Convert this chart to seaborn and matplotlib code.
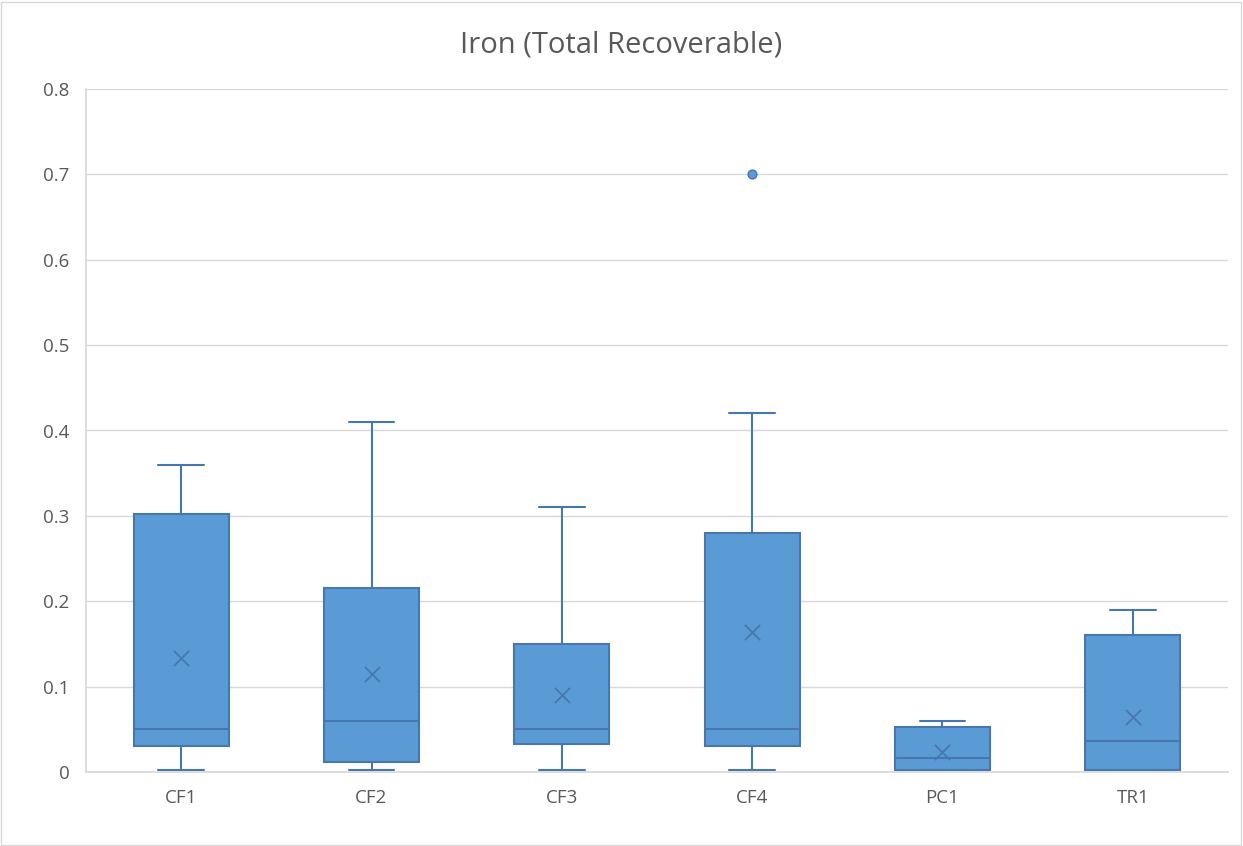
import matplotlib
matplotlib.use("Agg")
import matplotlib.pyplot as plt
import seaborn as sns
import pandas as pd

sites = ["CF1", "CF2", "CF3", "CF4", "PC1", "TR1"]
whislo = [0.002, 0.002, 0.002, 0.002, 0.002, 0.002]
q1 = [0.030, 0.012, 0.033, 0.030, 0.002, 0.002]
med = [0.050, 0.060, 0.050, 0.050, 0.016, 0.036]
q3 = [0.302, 0.215, 0.150, 0.280, 0.053, 0.160]
whishi = [0.360, 0.410, 0.310, 0.420, 0.060, 0.190]
means = [0.134, 0.115, 0.090, 0.164, 0.023, 0.065]
outlier_site = ["CF4"]
outlier_val = [0.700]

sns.set_theme(style="white")
plt.rcParams['font.family'] = ['Open Sans', 'DejaVu Sans']

fill = "#5B9BD5"
edge = "#4677AE"
txt = "#595959"

fig = plt.figure(figsize=(12.43, 8.46), dpi=100)
ax = fig.add_axes([86 / 1243, 1 - 772 / 846, (1228 - 86) / 1243, (772 - 89) / 846])

stats = [dict(label=s, whislo=a, q1=b, med=c, q3=d, whishi=e, fliers=[])
         for s, a, b, c, d, e in zip(sites, whislo, q1, med, q3, whishi)]
pos = list(range(len(sites)))
ax.bxp(stats, positions=pos, widths=0.5, patch_artist=True, showfliers=False,
       boxprops=dict(facecolor=fill, edgecolor=edge, linewidth=1.5),
       medianprops=dict(color=edge, linewidth=1.5),
       whiskerprops=dict(color=edge, linewidth=1.5),
       capprops=dict(color=edge, linewidth=1.5), capwidths=0.24)

mdf = pd.DataFrame({"x": pos, "y": means})
sns.scatterplot(data=mdf, x="x", y="y", marker="x", s=120, color=edge,
                linewidth=1.3, ax=ax, zorder=5)
odf = pd.DataFrame({"x": [sites.index(s) for s in outlier_site], "y": outlier_val})
sns.scatterplot(data=odf, x="x", y="y", s=40, color=fill, edgecolor=edge,
                linewidth=1, ax=ax, zorder=5)

ax.set_xlim(-0.5, len(sites) - 0.5)
ax.set_ylim(0, 0.8)
ax.set_yticks([i / 10 for i in range(9)])
ax.set_yticklabels(["0"] + [f"{i / 10:.1f}" for i in range(1, 9)])
ax.set_xticks(pos)
ax.set_xticklabels(sites)
ax.yaxis.grid(True, color="#D9D9D9", linewidth=1)
ax.set_axisbelow(True)
for side in ["top", "right"]:
    ax.spines[side].set_visible(False)
ax.spines["bottom"].set_color("#D9D9D9")
ax.spines["left"].set_color("#D9D9D9")
ax.tick_params(axis="both", colors=txt, labelsize=13.5, length=0, pad=12)
ax.set_xlabel("")
ax.set_ylabel("")
fig.text(0.5, 1 - 45 / 846, "Iron (Total Recoverable)", ha="center", va="center",
         fontsize=21, color=txt)
fig.patches.append(plt.Rectangle((0.001, 0.001), 0.997, 0.997, transform=fig.transFigure,
                                 fill=False, edgecolor="#D9D9D9", linewidth=1))

fig.savefig("out.png", dpi=100)
